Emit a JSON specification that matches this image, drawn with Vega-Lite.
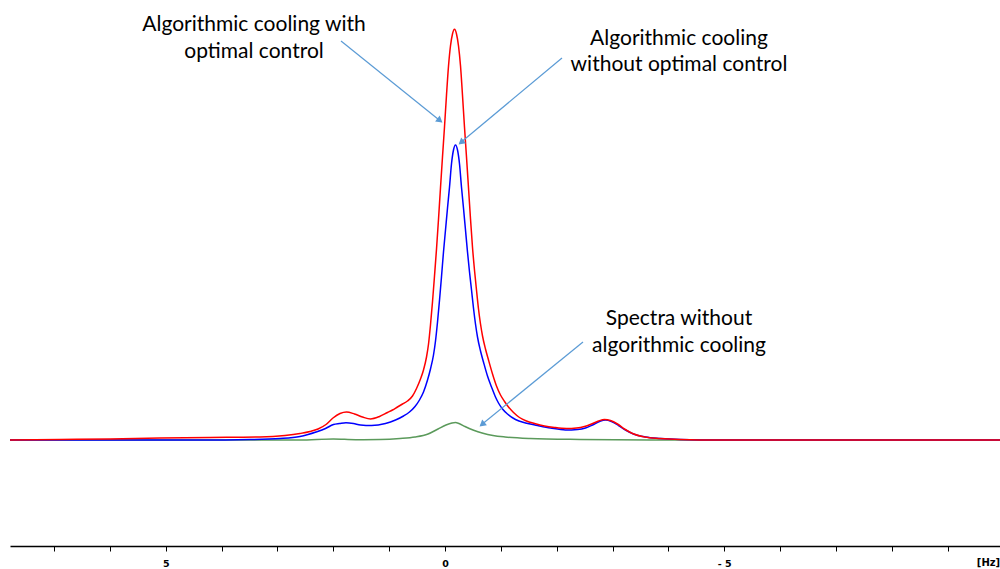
{
  "$schema": "https://vega.github.io/schema/vega-lite/v6.json",
  "width": 990,
  "height": 546,
  "autosize": {"type": "none"},
  "padding": {"left": 10, "top": 0, "right": 0, "bottom": 23},
  "background": "white",
  "config": {"view": {"stroke": null}},
  "datasets": {
    "spectra": [
      {"s":"none","hz":7.790,"v":0},{"s":"none","hz":5.0,"v":0},{"s":"none","hz":2.597,"v":0},{"s":"none","hz":2.0,"v":1},{"s":"none","hz":1.6,"v":0.3},{"s":"none","hz":1.164,"v":0.5},{"s":"none","hz":0.806,"v":1.5},{"s":"none","hz":0.537,"v":3},{"s":"none","hz":0.304,"v":6},{"s":"none","hz":0.125,"v":11},{"s":"none","hz":-0.018,"v":15},{"s":"none","hz":-0.125,"v":17},{"s":"none","hz":-0.188,"v":17.5},{"s":"none","hz":-0.251,"v":16.5},{"s":"none","hz":-0.358,"v":13.5},{"s":"none","hz":-0.501,"v":10},{"s":"none","hz":-0.680,"v":6.7},{"s":"none","hz":-0.859,"v":4.5},{"s":"none","hz":-1.075,"v":3},{"s":"none","hz":-1.522,"v":1.5},{"s":"none","hz":-2.418,"v":0.5},{"s":"none","hz":-3.671,"v":0},{"s":"none","hz":-6.5,"v":0},{"s":"none","hz":-9.939,"v":0},

      {"s":"without","hz":7.790,"v":0},{"s":"without","hz":4.387,"v":0},{"s":"without","hz":3.492,"v":0.5},{"s":"without","hz":2.955,"v":1.5},{"s":"without","hz":2.597,"v":3.5},{"s":"without","hz":2.453,"v":5.5},{"s":"without","hz":2.310,"v":8},{"s":"without","hz":2.140,"v":11.5},{"s":"without","hz":1.997,"v":15.5},{"s":"without","hz":1.889,"v":16.5},{"s":"without","hz":1.773,"v":17.3},{"s":"without","hz":1.639,"v":16.5},{"s":"without","hz":1.513,"v":15},{"s":"without","hz":1.316,"v":14.5},{"s":"without","hz":1.066,"v":16.5},{"s":"without","hz":0.886,"v":20},{"s":"without","hz":0.743,"v":24},{"s":"without","hz":0.636,"v":28},{"s":"without","hz":0.537,"v":33.5},{"s":"without","hz":0.457,"v":40},{"s":"without","hz":0.385,"v":48},{"s":"without","hz":0.313,"v":60},{"s":"without","hz":0.260,"v":71},{"s":"without","hz":0.206,"v":85},{"s":"without","hz":0.170,"v":99},{"s":"without","hz":0.134,"v":118},{"s":"without","hz":0.098,"v":140},{"s":"without","hz":0.063,"v":163},{"s":"without","hz":0.027,"v":188},{"s":"without","hz":-0.009,"v":210},{"s":"without","hz":-0.045,"v":232},{"s":"without","hz":-0.081,"v":253},{"s":"without","hz":-0.116,"v":276},{"s":"without","hz":-0.152,"v":290},{"s":"without","hz":-0.188,"v":295},{"s":"without","hz":-0.224,"v":290},{"s":"without","hz":-0.260,"v":276},{"s":"without","hz":-0.295,"v":253},{"s":"without","hz":-0.331,"v":232},{"s":"without","hz":-0.367,"v":210},{"s":"without","hz":-0.403,"v":188},{"s":"without","hz":-0.439,"v":168},{"s":"without","hz":-0.475,"v":150},{"s":"without","hz":-0.510,"v":132},{"s":"without","hz":-0.546,"v":116},{"s":"without","hz":-0.582,"v":103},{"s":"without","hz":-0.636,"v":89},{"s":"without","hz":-0.689,"v":78},{"s":"without","hz":-0.761,"v":64},{"s":"without","hz":-0.833,"v":53},{"s":"without","hz":-0.904,"v":43},{"s":"without","hz":-0.958,"v":37},{"s":"without","hz":-1.030,"v":31},{"s":"without","hz":-1.119,"v":26},{"s":"without","hz":-1.262,"v":20.5},{"s":"without","hz":-1.442,"v":17},{"s":"without","hz":-1.656,"v":14.5},{"s":"without","hz":-1.889,"v":12},{"s":"without","hz":-2.158,"v":10},{"s":"without","hz":-2.373,"v":10.5},{"s":"without","hz":-2.516,"v":12},{"s":"without","hz":-2.641,"v":15},{"s":"without","hz":-2.767,"v":18.5},{"s":"without","hz":-2.874,"v":20},{"s":"without","hz":-2.981,"v":18.5},{"s":"without","hz":-3.107,"v":14.5},{"s":"without","hz":-3.232,"v":10},{"s":"without","hz":-3.375,"v":6},{"s":"without","hz":-3.590,"v":3},{"s":"without","hz":-3.859,"v":1.5},{"s":"without","hz":-4.217,"v":0.5},{"s":"without","hz":-4.934,"v":0},{"s":"without","hz":-7.0,"v":0},{"s":"without","hz":-9.939,"v":0},

      {"s":"with","hz":7.790,"v":0},{"s":"with","hz":6.895,"v":0.5},{"s":"with","hz":5.999,"v":1},{"s":"with","hz":5.104,"v":2},{"s":"with","hz":4.208,"v":2.5},{"s":"with","hz":3.313,"v":3},{"s":"with","hz":2.865,"v":4.5},{"s":"with","hz":2.597,"v":6.5},{"s":"with","hz":2.418,"v":8.5},{"s":"with","hz":2.274,"v":11},{"s":"with","hz":2.131,"v":15.5},{"s":"with","hz":2.006,"v":22},{"s":"with","hz":1.880,"v":26.5},{"s":"with","hz":1.764,"v":28},{"s":"with","hz":1.621,"v":26},{"s":"with","hz":1.477,"v":23},{"s":"with","hz":1.334,"v":21},{"s":"with","hz":1.173,"v":23.5},{"s":"with","hz":1.030,"v":27.5},{"s":"with","hz":0.940,"v":30},{"s":"with","hz":0.851,"v":33},{"s":"with","hz":0.761,"v":36},{"s":"with","hz":0.672,"v":39},{"s":"with","hz":0.582,"v":44},{"s":"with","hz":0.510,"v":51.5},{"s":"with","hz":0.439,"v":61},{"s":"with","hz":0.385,"v":70},{"s":"with","hz":0.331,"v":83},{"s":"with","hz":0.295,"v":96},{"s":"with","hz":0.260,"v":115},{"s":"with","hz":0.224,"v":138},{"s":"with","hz":0.188,"v":164},{"s":"with","hz":0.152,"v":191},{"s":"with","hz":0.116,"v":221},{"s":"with","hz":0.081,"v":252},{"s":"with","hz":0.045,"v":283},{"s":"with","hz":0.009,"v":313},{"s":"with","hz":-0.027,"v":345},{"s":"with","hz":-0.063,"v":374},{"s":"with","hz":-0.098,"v":394},{"s":"with","hz":-0.134,"v":406},{"s":"with","hz":-0.170,"v":410.7},{"s":"with","hz":-0.206,"v":406},{"s":"with","hz":-0.242,"v":394},{"s":"with","hz":-0.278,"v":374},{"s":"with","hz":-0.313,"v":345},{"s":"with","hz":-0.349,"v":313},{"s":"with","hz":-0.385,"v":283},{"s":"with","hz":-0.421,"v":252},{"s":"with","hz":-0.457,"v":221},{"s":"with","hz":-0.492,"v":193},{"s":"with","hz":-0.528,"v":170},{"s":"with","hz":-0.564,"v":150},{"s":"with","hz":-0.600,"v":131},{"s":"with","hz":-0.636,"v":116},{"s":"with","hz":-0.672,"v":104},{"s":"with","hz":-0.725,"v":91},{"s":"with","hz":-0.779,"v":80},{"s":"with","hz":-0.851,"v":66},{"s":"with","hz":-0.922,"v":54},{"s":"with","hz":-0.994,"v":45},{"s":"with","hz":-1.066,"v":38.5},{"s":"with","hz":-1.137,"v":33},{"s":"with","hz":-1.227,"v":27.5},{"s":"with","hz":-1.334,"v":22.5},{"s":"with","hz":-1.459,"v":19},{"s":"with","hz":-1.603,"v":16.5},{"s":"with","hz":-1.782,"v":14},{"s":"with","hz":-1.961,"v":12.5},{"s":"with","hz":-2.176,"v":11.5},{"s":"with","hz":-2.355,"v":12},{"s":"with","hz":-2.498,"v":13.5},{"s":"with","hz":-2.623,"v":16},{"s":"with","hz":-2.749,"v":19},{"s":"with","hz":-2.856,"v":20.5},{"s":"with","hz":-2.963,"v":19.5},{"s":"with","hz":-3.089,"v":16},{"s":"with","hz":-3.214,"v":11},{"s":"with","hz":-3.358,"v":6.5},{"s":"with","hz":-3.573,"v":3},{"s":"with","hz":-3.842,"v":1.5},{"s":"with","hz":-4.200,"v":0.5},{"s":"with","hz":-4.916,"v":0},{"s":"with","hz":-6.357,"v":0},{"s":"with","hz":-8.148,"v":0},{"s":"with","hz":-9.939,"v":0}
    ],
    "labels": [
      {"hz":3.42,"v":415,"t":"Algorithmic cooling with"},
      {"hz":3.42,"v":388,"t":"optimal control"},
      {"hz":-4.19,"v":401,"t":"Algorithmic cooling"},
      {"hz":-4.19,"v":375,"t":"without optimal control"},
      {"hz":-4.19,"v":121,"t":"Spectra without"},
      {"hz":-4.19,"v":94,"t":"algorithmic cooling"}
    ],
    "arrows": [
      {"id":"a1","hz":1.862,"v":399,"hz2":0.060,"v2":318,"hx":0.091,"hv":319.5},
      {"id":"a2","hz":-2.095,"v":382,"hz2":-0.260,"v2":296.5,"hx":-0.288,"hv":297.6},
      {"id":"a3","hz":-2.471,"v":98,"hz2":-0.636,"v2":14.5,"hx":-0.664,"hv":15.5}
    ]
  },
  "layer": [
    {
      "data": {"name": "spectra"},
      "mark": {"type": "line", "strokeWidth": 1.5, "interpolate": "monotone"},
      "encoding": {
        "x": {
          "field": "hz", "type": "quantitative",
          "scale": {"domain": [-9.939, 7.79], "reverse": true, "nice": false, "zero": false},
          "axis": {
            "title": "[Hz]",
            "values": [-9,-8,-7,-6,-5,-4,-3,-2,-1,0,1,2,3,4,5,6,7],
            "labelExpr": "datum.value == 5 ? '5' : datum.value == 0 ? '0' : datum.value == -5 ? '- 5' : ''",
            "grid": false,
            "domainColor": "#000000",
            "domainWidth": 1.5,
            "tickColor": "#000000",
            "tickSize": 5,
            "tickWidth": 1,
            "labelFont": "DejaVu Sans",
            "labelFontWeight": "bold",
            "labelFontSize": 9.5,
            "labelColor": "#000000",
            "labelPadding": 7,
            "labelFlush": false,
            "labelOverlap": false,
            "titleFont": "DejaVu Sans",
            "titleFontWeight": "bold",
            "titleFontSize": 10,
            "titleColor": "#000000",
            "titleX": 978,
            "titleY": 16,
            "titleAlign": "center",
            "titleBaseline": "middle"
          }
        },
        "y": {"field": "v", "type": "quantitative", "scale": {"domain": [-106, 440], "nice": false, "zero": false}, "axis": null},
        "color": {"field": "s", "type": "nominal", "scale": {"domain": ["none","without","with"], "range": ["#5b9a5b","#0000ff","#ff0000"]}, "legend": null}
      }
    },
    {
      "data": {"name": "arrows"},
      "mark": {"type": "rule", "color": "#5b9bd5", "strokeWidth": 1.2},
      "encoding": {
        "x": {"field": "hz", "type": "quantitative"},
        "y": {"field": "v", "type": "quantitative"},
        "x2": {"field": "hz2"},
        "y2": {"field": "v2"}
      }
    },
    {
      "data": {"name": "arrows"},
      "transform": [{"filter": "datum.id == 'a1'"}],
      "mark": {"type": "point", "shape": "triangle-right", "filled": true, "size": 55, "color": "#5b9bd5", "opacity": 1, "angle": 38.8},
      "encoding": {"x": {"field": "hx", "type": "quantitative"}, "y": {"field": "hv", "type": "quantitative"}}
    },
    {
      "data": {"name": "arrows"},
      "transform": [{"filter": "datum.id == 'a2'"}],
      "mark": {"type": "point", "shape": "triangle-right", "filled": true, "size": 55, "color": "#5b9bd5", "opacity": 1, "angle": 140.1},
      "encoding": {"x": {"field": "hx", "type": "quantitative"}, "y": {"field": "hv", "type": "quantitative"}}
    },
    {
      "data": {"name": "arrows"},
      "transform": [{"filter": "datum.id == 'a3'"}],
      "mark": {"type": "point", "shape": "triangle-right", "filled": true, "size": 55, "color": "#5b9bd5", "opacity": 1, "angle": 140.7},
      "encoding": {"x": {"field": "hx", "type": "quantitative"}, "y": {"field": "hv", "type": "quantitative"}}
    },
    {
      "data": {"name": "labels"},
      "mark": {"type": "text", "font": "Lato", "fontSize": 21, "color": "#000000", "align": "center", "baseline": "middle"},
      "encoding": {
        "x": {"field": "hz", "type": "quantitative"},
        "y": {"field": "v", "type": "quantitative"},
        "text": {"field": "t"}
      }
    }
  ]
}
